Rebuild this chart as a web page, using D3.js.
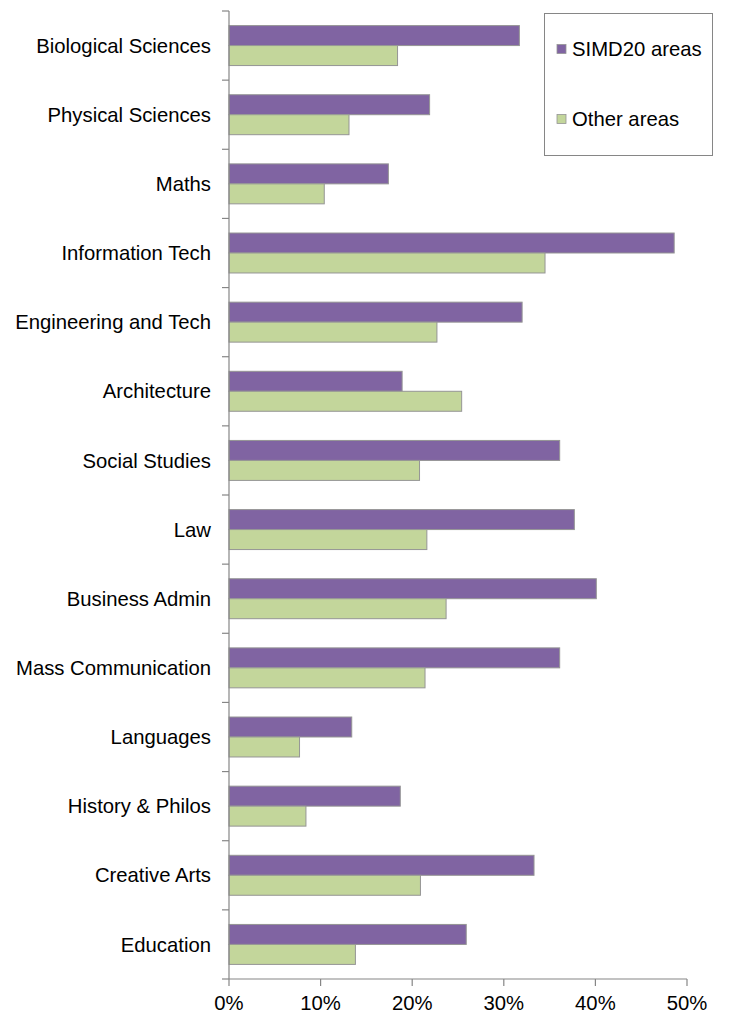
<!DOCTYPE html>
<html>
<head>
<meta charset="utf-8">
<script src="https://cdn.jsdelivr.net/npm/d3@7"></script>
<style>
  html, body { margin: 0; padding: 0; background: #fff; }
  svg { display: block; }
  text { font-family: "Liberation Sans", Arial, sans-serif; fill: #000; }
</style>
</head>
<body>
<svg id="chart" width="734" height="1014"></svg>
<script>
// Subjects, listed top to bottom
const categories = [
  "Biological Sciences", "Physical Sciences", "Maths", "Information Tech",
  "Engineering and Tech", "Architecture", "Social Studies", "Law",
  "Business Admin", "Mass Communication", "Languages", "History & Philos",
  "Creative Arts", "Education"
];
const seriesNames = ["SIMD20 areas", "Other areas"];
// Percentage values per subject
const simd20 = [31.7, 21.9, 17.4, 48.6, 32.0, 18.9, 36.1, 37.7, 40.1, 36.1, 13.4, 18.7, 33.3, 25.9];
const other  = [18.4, 13.1, 10.4, 34.5, 22.7, 25.4, 20.8, 21.6, 23.7, 21.4, 7.7, 8.4, 20.9, 13.8];
const xTicks = [0, 10, 20, 30, 40, 50];
const colors = ["#8064A2", "#C3D69B"];

const svg = d3.select("#chart");
const plotLeft = 229, plotRight = 687, plotTop = 11, plotBottom = 979;
const fontSize = 20.3;

const x = d3.scaleLinear().domain([0, 50]).range([plotLeft, plotRight]);
const y = d3.scaleBand().domain(categories).range([plotTop, plotBottom]).padding(0);
const inner = d3.scaleBand().domain(seriesNames).range([0, y.bandwidth()])
  .paddingInner(0).paddingOuter(0.73);

const rows = categories.map((c, i) => ({ cat: c, vals: [simd20[i], other[i]] }));

// Bars
const g = svg.append("g");
rows.forEach(r => {
  r.vals.forEach((v, j) => {
    g.append("rect")
      .attr("x", x(0))
      .attr("y", y(r.cat) + inner(seriesNames[j]))
      .attr("width", x(v) - x(0))
      .attr("height", inner.bandwidth())
      .attr("fill", colors[j])
      .attr("stroke", "#959595")
      .attr("stroke-width", 1);
  });
});

// Category axis
const yAxis = svg.append("g").attr("transform", `translate(${plotLeft},0)`);
yAxis.append("line").attr("x1", 0).attr("x2", 0).attr("y1", plotTop).attr("y2", plotBottom)
  .attr("stroke", "#868686").attr("stroke-width", 1.2);
const yEdges = categories.map(c => y(c)).concat([plotBottom]);
yAxis.selectAll("line.tick").data(yEdges).enter().append("line")
  .attr("class", "tick")
  .attr("x1", -7).attr("x2", 0)
  .attr("y1", d => d).attr("y2", d => d)
  .attr("stroke", "#868686").attr("stroke-width", 1.2);
yAxis.selectAll("text").data(categories).enter().append("text")
  .attr("x", -18)
  .attr("y", d => y(d) + y.bandwidth() / 2)
  .attr("dy", "0.35em")
  .attr("text-anchor", "end")
  .attr("font-size", fontSize)
  .text(d => d);

// Value axis
const xAxis = svg.append("g");
xAxis.append("line").attr("x1", plotLeft).attr("x2", plotRight).attr("y1", plotBottom).attr("y2", plotBottom)
  .attr("stroke", "#868686").attr("stroke-width", 1.2);
xAxis.selectAll("line.tick").data(xTicks).enter().append("line")
  .attr("class", "tick")
  .attr("x1", d => x(d)).attr("x2", d => x(d))
  .attr("y1", plotBottom).attr("y2", plotBottom + 7)
  .attr("stroke", "#868686").attr("stroke-width", 1.2);
xAxis.selectAll("text").data(xTicks).enter().append("text")
  .attr("x", d => x(d))
  .attr("y", 1010)
  .attr("text-anchor", "middle")
  .attr("font-size", fontSize)
  .text(d => d + "%");

// Legend
const lg = svg.append("g");
lg.append("rect").attr("x", 544.5).attr("y", 13.5).attr("width", 168).attr("height", 142)
  .attr("fill", "#fff").attr("stroke", "#868686").attr("stroke-width", 1);
const legendY = [49, 119];
seriesNames.forEach((s, j) => {
  lg.append("rect").attr("x", 557).attr("y", legendY[j] - 4.5).attr("width", 9).attr("height", 9)
    .attr("fill", colors[j]).attr("stroke", "#959595").attr("stroke-width", 0.8);
  lg.append("text").attr("x", 572).attr("y", legendY[j]).attr("dy", "0.35em")
    .attr("font-size", fontSize).text(s);
});
</script>
</body>
</html>
